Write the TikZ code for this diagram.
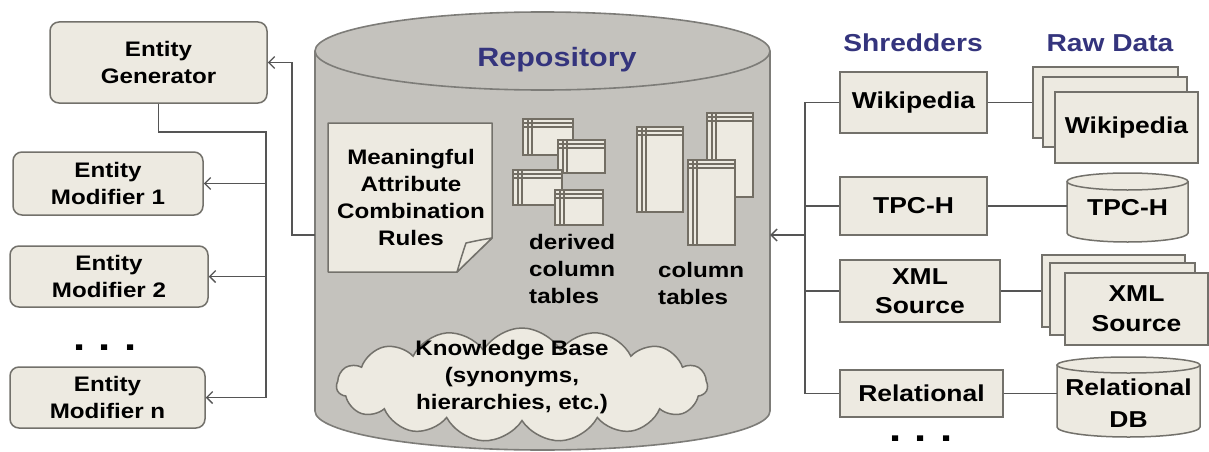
\documentclass[tikz,border=0pt]{standalone}
\usepackage{fontspec}
\setmainfont{Liberation Sans}[FakeStretch=1.15]
\usetikzlibrary{shapes.symbols,arrows.meta,calc}
\definecolor{boxfill}{RGB}{237,234,225}
\definecolor{boxdraw}{RGB}{115,113,107}
\definecolor{cylfill}{RGB}{196,194,189}
\definecolor{cyldraw}{RGB}{125,124,120}
\definecolor{hdr}{RGB}{52,52,125}
\definecolor{connc}{RGB}{85,85,85}
\definecolor{tblline}{RGB}{115,110,100}
\tikzset{
  ebox/.style={draw=boxdraw, fill=boxfill, line width=1.5pt, rounded corners=9pt, align=center, inner sep=0pt,
    font=\fontsize{21}{27}\selectfont\bfseries},
  sbox/.style={draw=boxdraw, fill=boxfill, line width=1.5pt, align=center, inner sep=0pt,
    font=\fontsize{23}{30}\selectfont\bfseries},
  rawbox/.style={draw=boxdraw, fill=boxfill, line width=1.5pt, inner sep=0pt},
  txt/.style={align=center, inner sep=0pt, font=\fontsize{21}{27}\selectfont\bfseries},
  rawtxt/.style={align=center, inner sep=0pt, font=\fontsize{23}{32}\selectfont\bfseries},
  hdrtxt/.style={text=hdr, inner sep=0pt, font=\fontsize{24.5}{30}\selectfont\bfseries},
  conn/.style={draw=connc, line width=1.4pt},
  arr/.style={conn, -{Straight Barb[length=6pt,width=12pt,line width=1.4pt]}},
  dotrow/.style={anchor=base, inner sep=0pt, font=\fontsize{38}{40}\selectfont\bfseries},
  pics/tabicon/.style 2 args={code={
    \draw[draw=tblline, fill=boxfill, line width=1.6pt] (0,0) rectangle (#1,#2);
    \draw[draw=tblline, line width=1.1pt] (0,4) -- (#1,4) (0,8) -- (#1,8) (5,0) -- (5,#2) (9,0) -- (9,#2);
  }}
}
\begin{document}
\begin{tikzpicture}[x=1pt,y=-1pt]
\useasboundingbox (0,0) rectangle (1209,452);
\fill[white] (0,0) rectangle (1209,452);

% ---------- Repository cylinder ----------
\fill[cylfill] (315,51) rectangle (770,411);
\fill[cylfill] (542.5,411) ellipse (227.5 and 39);
\draw[cyldraw, line width=1.6pt] (315,51) -- (315,411) arc[start angle=180, end angle=0, x radius=227.5, y radius=39] -- (770,51);
\draw[cyldraw, fill=cylfill, line width=1.6pt] (542.5,51) ellipse (227.5 and 39);
\node[minimum width=455pt, minimum height=350pt, inner sep=0pt] (repo) at (542.5,235) {};
\node[text=hdr, inner sep=0pt, font=\fontsize{26.5}{30}\selectfont\bfseries] (repotitle) at (557,60) {Repository};

% note
\draw[draw=boxdraw, fill=boxfill, line width=1.5pt, line join=round] (328,123) -- (492,123) -- (492,238) -- (457,272) -- (328,272) -- cycle;
\draw[draw=boxdraw, fill=boxfill, line width=1.5pt, line join=round] (492,238) .. controls (480,240) .. (466,243) .. controls (462,255) .. (457,272) -- cycle;
\node[txt] (rules) at (411,197) {Meaningful\\Attribute\\Combination\\Rules};

% derived tables
\pic at (523,119) {tabicon={50}{36}};
\pic at (558,140) {tabicon={47}{33}};
\pic at (513,170) {tabicon={49}{35}};
\pic at (555,190) {tabicon={48}{35}};
\node[txt, align=left, anchor=west] (derived) at (529,269) {derived\\column\\tables};
% column tables
\pic at (637,127) {tabicon={46}{85}};
\pic at (707,113) {tabicon={46}{84}};
\pic at (688,160) {tabicon={47}{85}};
\node[txt, align=left, anchor=west] (coltab) at (658,283) {column\\tables};

% knowledge base cloud
\node[cloud, cloud puffs=15, cloud puff arc=120, aspect=3.3, draw=boxdraw, fill=boxfill, line width=1.5pt,
  minimum width=371pt, minimum height=114pt, inner sep=0pt] (kbcloud) at (522,385) {};
\node[txt] (kb) at (512,377) {Knowledge Base\\(synonyms,\\hierarchies, etc.)};

% ---------- left side ----------
\node[ebox, minimum width=217pt, minimum height=81pt] (gen) at (158.5,62.5) {Entity\\Generator};
\node[ebox, minimum width=190pt, minimum height=63pt] (mod1) at (108,183.5) {Entity\\Modifier 1};
\node[ebox, minimum width=198pt, minimum height=61pt] (mod2) at (109,276.5) {Entity\\Modifier 2};
\node[ebox, minimum width=195pt, minimum height=61pt] (modn) at (107.5,397.5) {Entity\\Modifier n};
\node[dotrow] (ldots) at (105,350.5) {.\hspace{13pt}.\hspace{13pt}.};

\coordinate (lt) at (292,235);
\draw[arr] (repo.west |- lt) -- (lt) |- (gen.east);
\coordinate (lj) at (266,132);
\draw[conn] (gen.south) |- (lj) -- (lj |- modn.east);
\draw[arr] (lj |- mod1.east) -- (mod1.east);
\draw[arr] (lj |- mod2.east) -- (mod2.east);
\draw[arr] (lj |- modn.east) -- (modn.east);

% ---------- right side ----------
\node[hdrtxt] (shredhdr) at (913,43) {Shredders};
\node[hdrtxt] (rawhdr) at (1110,43) {Raw Data};

\node[sbox, minimum width=147pt, minimum height=61pt] (sw) at (913.5,102.5) {Wikipedia};
\node[sbox, minimum width=147pt, minimum height=58pt] (st) at (913.5,206) {TPC-H};
\node[sbox, minimum width=160pt, minimum height=62pt, font=\fontsize{23}{29}\selectfont\bfseries] (sx) at (920,291) {XML\\Source};
\node[sbox, minimum width=163pt, minimum height=47pt] (sr) at (921.5,393.5) {Relational};
\node[dotrow] (rdots) at (921,441.5) {.\hspace{13pt}.\hspace{13pt}.};

% raw wikipedia stack
\node[rawbox, minimum width=145pt, minimum height=71pt] (wb) at (1105.5,102.5) {};
\node[rawbox, minimum width=144pt, minimum height=70pt] (wm) at (1115,112) {};
\node[rawbox, minimum width=143pt, minimum height=71pt, rawtxt] (wf) at (1126.5,127.5) {Wikipedia};
% raw xml stack
\node[rawbox, minimum width=143pt, minimum height=72pt] (xb) at (1113.5,291) {};
\node[rawbox, minimum width=145pt, minimum height=72pt] (xm) at (1122.5,299) {};
\node[rawbox, minimum width=143pt, minimum height=72pt, rawtxt, font=\fontsize{23}{30}\selectfont\bfseries] (xf) at (1136.5,309) {XML\\Source};

% TPC-H cylinder
\fill[boxfill] (1067,181.5) rectangle (1188,233);
\draw[boxdraw, fill=boxfill, line width=1.5pt] (1067,181.5) -- (1067,233) arc[start angle=180, end angle=0, x radius=60.5, y radius=9] -- (1188,181.5);
\draw[boxdraw, fill=boxfill, line width=1.5pt] (1127.5,181.5) ellipse (60.5 and 8.5);
\node[rawtxt, minimum width=121pt, minimum height=60pt] (tpch) at (1127.5,208) {TPC-H};

% Relational DB cylinder
\fill[boxfill] (1057,365) rectangle (1200,427);
\draw[boxdraw, fill=boxfill, line width=1.5pt] (1057,365) -- (1057,427) arc[start angle=180, end angle=0, x radius=71.5, y radius=10] -- (1200,365);
\draw[boxdraw, fill=boxfill, line width=1.5pt] (1128.5,365) ellipse (71.5 and 8);
\node[rawtxt, minimum width=143pt, minimum height=70pt] (reldb) at (1128.5,403) {Relational\\DB};

% connectors right
\coordinate (rt) at (805,235);
\draw[conn] (sw.west) -- (sw.west -| rt) -- (sr.west -| rt) -- (sr.west);
\draw[conn] (st.west) -- (st.west -| rt);
\draw[conn] (sx.west) -- (sx.west -| rt);
\draw[arr] (rt) -- (rt -| repo.east);

\draw[conn] (sw.east) -- (sw.east -| wb.west);
\draw[conn] (st.east) -- (st.east -| tpch.west);
\draw[conn] (sx.east) -- (sx.east -| xb.west);
\draw[conn] (sr.east) -- (sr.east -| reldb.west);
\end{tikzpicture}
\end{document}
